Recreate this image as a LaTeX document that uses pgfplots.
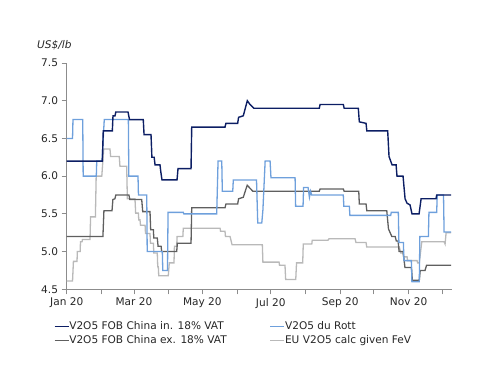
\documentclass[border=0pt]{standalone}
\usepackage{fontspec}
\setmainfont{DejaVu Sans}
\usepackage{pgfplots}
\pgfplotsset{compat=1.18}
\definecolor{navy}{RGB}{12,30,100}
\definecolor{lblue}{RGB}{110,160,220}
\definecolor{dgray}{RGB}{95,95,95}
\definecolor{lgray}{RGB}{185,185,185}
\definecolor{axgray}{RGB}{140,140,140}
\newcommand{\lblfont}{\fontsize{10.6pt}{12.7pt}\selectfont}
\begin{document}
\lblfont
\begin{tikzpicture}
\useasboundingbox (0,0) rectangle (500bp,386bp);
\begin{axis}[
 at={(66.7bp,96.7bp)}, anchor=south west,
 scale only axis, width=385bp, height=226.3bp,
 xmin=0, xmax=343.4, ymin=4.5, ymax=7.5,
 clip=false,
 axis x line*=bottom, axis y line*=left,
 axis line style={axgray, line width=0.8bp},
 tick align=outside, major tick length=5bp,
 tick style={axgray, line width=0.8bp},
 xtick={0,31,60,91,121,152,182,213,244,274,305,335},
 xticklabels={Jan 20,,Mar 20,,May 20,,Jul 20,,Sep 20,,Nov 20,},
 ytick={4.5,5,5.5,6,6.5,7,7.5},
 tick label style={font=\lblfont, text=black!85},
 yticklabel style={/pgf/number format/fixed, /pgf/number format/fixed zerofill, /pgf/number format/precision=1, /pgf/number format/assume math mode=true},
 legend columns=2,
 legend cell align=left,
 legend style={at={(0,0)}, anchor=north west, xshift=-12.7bp, yshift=-30.7bp,
   draw=none, fill=none, inner sep=0pt, outer sep=0pt, font=\lblfont, text=black!85,
   nodes={inner xsep=0pt, inner ysep=1bp, text height=8bp, text depth=2.5bp},
   /tikz/every even column/.append style={column sep=43bp}, row sep=1.5bp},
 legend image code/.code={\draw[#1] (0bp,0bp) -- (14bp,0bp);},
]
\addplot[lgray, line width=1.3bp, forget plot] coordinates {
(0,4.61)(5.2,4.61)(6,4.87)(9.2,4.87)(9.5,5.00)(12,5.00)(12.3,5.13)(13.7,5.13)(14,5.16)(20.8,5.16)(21.3,5.46)(25.6,5.46)(26.3,6.00)(31.3,6.00)(33,6.36)(38.6,6.36)(39.2,6.26)(46.9,6.26)(47.5,6.13)(53.5,6.13)(54.1,5.70)(60.9,5.70)(61.5,5.51)(63.9,5.51)(64.3,5.42)(65.4,5.42)(65.8,5.35)(69.9,5.35)(70.3,5.24)(74.3,5.24)(74.7,5.11)(77.3,5.11)(77.7,4.98)(80.8,4.98)(81.2,4.80)(81.7,4.80)(82.1,4.68)(90.6,4.68)(91.5,4.85)(95.7,4.85)(96.1,5.07)(98.1,5.07)(98.5,5.20)(103.6,5.20)(104,5.31)(136.8,5.31)(137.2,5.27)(141.2,5.27)(141.6,5.20)(145.7,5.20)(147.5,5.09)(174.5,5.09)(175,4.86)(189.4,4.86)(189.8,4.82)(194.7,4.82)(195.3,4.63)(204.3,4.63)(205,4.85)(210.5,4.85)(211,5.10)(218.6,5.10)(219,5.15)(233,5.15)(234,5.17)(257.2,5.17)(258,5.12)(267,5.12)(267.6,5.06)(296.7,5.06)(298,4.98)(300,4.98)(300.5,4.93)(303.6,4.93)(304,4.88)(312.5,4.88)(313,4.85)(314.5,4.85)(316.7,5.13)(336.6,5.13)(337.5,5.10)(338.4,5.25)(342.8,5.25)
};
\addplot[dgray, line width=1.3bp, forget plot] coordinates {
(0,5.20)(32.3,5.20)(33.2,5.54)(40.4,5.54)(41.2,5.69)(43,5.70)(43.8,5.75)(55.5,5.75)(56.3,5.69)(66.9,5.69)(67.8,5.53)(74.3,5.53)(74.9,5.29)(77.3,5.29)(77.7,5.18)(80.8,5.18)(81.5,5.07)(84.2,5.07)(84.7,5.00)(98.1,5.00)(98.7,5.11)(110.9,5.11)(111.5,5.58)(141.2,5.58)(142,5.63)(152.5,5.63)(153.3,5.70)(157.5,5.72)(161,5.88)(163.5,5.84)(166,5.80)(225.3,5.80)(226,5.83)(246.7,5.83)(247.5,5.80)(260.5,5.80)(261,5.63)(267,5.63)(267.7,5.54)(285.5,5.54)(287,5.30)(290,5.20)(293,5.20)(294,5.14)(295.6,5.14)(296.5,5.00)(300,5.00)(301.7,4.79)(307.5,4.79)(308.3,4.62)(314.5,4.62)(315.3,4.75)(319.6,4.75)(321,4.82)(342.8,4.82)
};
\addplot[lblue, line width=1.3bp, forget plot] coordinates {
(0,6.50)(5.2,6.50)(5.6,6.75)(14.3,6.75)(14.7,6.00)(26.4,6.00)(26.8,6.20)(31.5,6.20)(33.5,6.75)(55,6.75)(55.4,6.00)(63.6,6.00)(64,5.75)(71.4,5.75)(71.8,5.00)(85.3,5.00)(85.7,4.75)(89.9,4.75)(90.4,5.52)(104,5.52)(104.5,5.50)(133.8,5.50)(135,6.20)(138.3,6.20)(138.8,5.80)(148.1,5.80)(148.6,5.95)(169.3,5.95)(170.4,5.38)(174,5.38)(175,5.55)(177,6.20)(181.4,6.20)(182.2,5.98)(203.7,5.98)(204.2,5.60)(210.8,5.60)(211.3,5.85)(215.3,5.85)(216.5,5.72)(217.5,5.80)(218.5,5.75)(246.7,5.75)(247.2,5.60)(252.1,5.60)(252.6,5.48)(289,5.48)(289.5,5.52)(295.8,5.52)(296.3,5.12)(300.3,5.12)(300.8,4.88)(307.4,4.88)(307.9,4.60)(314.5,4.60)(315,5.20)(322.6,5.20)(323.1,5.52)(330,5.52)(330.5,5.75)(336.1,5.75)(336.6,5.26)(342.8,5.26)
};
\addplot[navy, line width=1.4bp, forget plot] coordinates {
(0,6.20)(31.8,6.20)(32.6,6.60)(40.7,6.60)(41.3,6.80)(43.1,6.80)(43.8,6.85)(54.7,6.85)(56,6.75)(68.3,6.75)(69,6.55)(75.2,6.55)(76,6.25)(78,6.25)(78.8,6.15)(83.2,6.15)(84,6.05)(85,5.95)(98.4,5.95)(99.3,6.10)(110.9,6.10)(111.5,6.65)(141.2,6.65)(142,6.70)(152.5,6.70)(153.3,6.78)(157.5,6.80)(161.1,7.00)(163.5,6.95)(167,6.90)(225.3,6.90)(226,6.95)(246.7,6.95)(247.5,6.90)(260.1,6.90)(261,6.72)(267,6.70)(267.7,6.60)(286.3,6.60)(287.5,6.26)(290.2,6.15)(293.8,6.15)(294.6,6.00)(300,6.00)(301.8,5.70)(303.6,5.64)(306.2,5.62)(308,5.50)(314.3,5.50)(316.1,5.70)(329.4,5.70)(330,5.75)(342.8,5.75)
};
\addlegendimage{navy, line width=1.3bp}
\addlegendentry{V2O5 FOB China in. 18\% VAT}
\addlegendimage{lblue, line width=1.3bp}
\addlegendentry{V2O5 du Rott}
\addlegendimage{dgray, line width=1.3bp}
\addlegendentry{V2O5 FOB China ex. 18\% VAT}
\addlegendimage{lgray, line width=1.3bp}
\addlegendentry{EU V2O5 calc given FeV}
\node[anchor=west, xshift=-29.7bp, yshift=18bp, inner sep=0pt, font=\lblfont\itshape, text=black!85] at (rel axis cs:0,1) {US\$/lb};
\end{axis}
\end{tikzpicture}
\end{document}
